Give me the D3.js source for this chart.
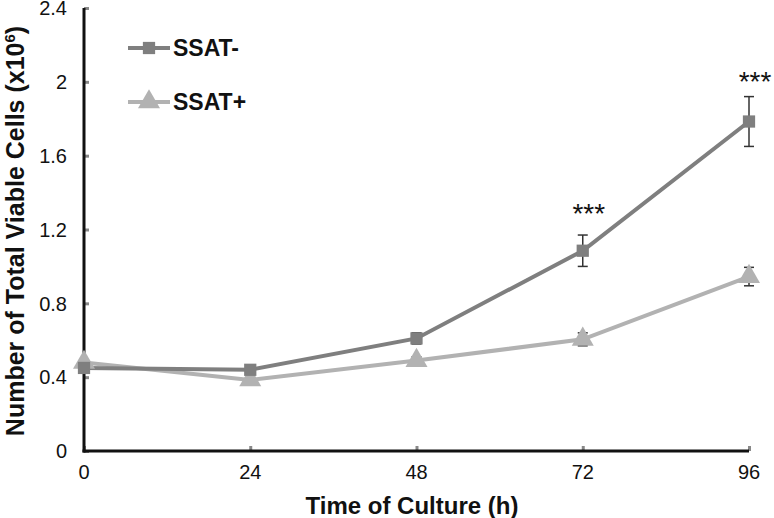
<!DOCTYPE html>
<html><head><meta charset="utf-8">
<script src="https://cdn.jsdelivr.net/npm/d3@7"></script>
<style>body{margin:0;background:#fff}svg{display:block}text{font-family:"Liberation Sans",Arial,sans-serif}</style>
</head><body><svg id="c" width="774" height="518"></svg>
<script>
const hours = [0, 24, 48, 72, 96];
const ssatMinus = [0.45, 0.44, 0.61, 1.085, 1.785];
const ssatMinusErr = [0.01, 0.01, 0.03, 0.085, 0.135];
const ssatPlus = [0.48, 0.385, 0.49, 0.605, 0.945];
const ssatPlusErr = [0.01, 0.01, 0.02, 0.035, 0.05];
const yTicks = [0, 0.4, 0.8, 1.2, 1.6, 2, 2.4];
const xTicks = [0, 24, 48, 72, 96];
const seriesNames = ["SSAT-", "SSAT+"];
const colors = ["#7f7f7f", "#b2b2b2"];
const signif = [{h:72, label:"***"}, {h:96, label:"***"}];

const svg = d3.select("#c");
const x = d3.scaleLinear().domain([0, 96]).range([84, 749]);
const y = d3.scaleLinear().domain([0, 2.4]).range([451, 8]);

// axes
const yAxis = svg.append("g").attr("transform", "translate(84,0)")
  .call(d3.axisRight(y).tickValues(yTicks).tickSize(5).tickFormat(""));
yAxis.select(".domain").remove();
yAxis.selectAll("line").attr("stroke", "#888").attr("stroke-width", 3);
const xAxis = svg.append("g").attr("transform", "translate(0,451)")
  .call(d3.axisTop(x).tickValues(xTicks).tickSize(5).tickFormat(""));
xAxis.select(".domain").remove();
xAxis.selectAll("line").attr("stroke", "#888").attr("stroke-width", 3);

svg.append("line").attr("x1", x(0)).attr("x2", x(0)).attr("y1", y(2.4)).attr("y2", y(0)+1.5)
  .attr("stroke", "#111").attr("stroke-width", 3);
svg.append("line").attr("x1", x(0)-1.5).attr("x2", x(96)).attr("y1", y(0)).attr("y2", y(0))
  .attr("stroke", "#111").attr("stroke-width", 3);

svg.selectAll("text.yt").data(yTicks).join("text").attr("class","yt")
  .attr("x", 67).attr("y", d => y(d)).attr("dy", "0.36em").attr("text-anchor", "end")
  .attr("font-size", 20).attr("fill", "#111").text(d => d);
svg.selectAll("text.xt").data(xTicks).join("text").attr("class","xt")
  .attr("x", d => x(d)).attr("y", 479).attr("text-anchor", "middle")
  .attr("font-size", 20).attr("fill", "#111").text(d => d);

svg.append("text").attr("x", 412).attr("y", 514).attr("text-anchor", "middle")
  .attr("font-size", 24).attr("font-weight", "bold").attr("fill", "#111").text("Time of Culture (h)");
const yt = svg.append("text").attr("transform", "translate(24,231) rotate(-90)").attr("text-anchor", "middle")
  .attr("font-size", 25).attr("font-weight", "bold").attr("fill", "#111");
yt.append("tspan").text("Number of Total Viable Cells (x10");
yt.append("tspan").attr("font-size", 15).attr("dy", -9).text("6");
yt.append("tspan").attr("dy", 9).text(")");

const line = d3.line().x(d => x(d[0])).y(d => y(d[1]));
const data = [
  hours.map((h,i) => [h, ssatMinus[i], ssatMinusErr[i]]),
  hours.map((h,i) => [h, ssatPlus[i], ssatPlusErr[i]])
];

// error bars
data.forEach((s, k) => {
  const g = svg.append("g").attr("stroke", "#333").attr("stroke-width", 1.5).attr("fill", "none");
  s.forEach(d => {
    if (d[2] < 0.02) return;
    const top = y(d[1] + d[2]), bot = y(d[1] - d[2]), cx = x(d[0]);
    g.append("line").attr("x1", cx).attr("x2", cx).attr("y1", top).attr("y2", bot);
    g.append("line").attr("x1", cx-5).attr("x2", cx+5).attr("y1", top).attr("y2", top);
    g.append("line").attr("x1", cx-5).attr("x2", cx+5).attr("y1", bot).attr("y2", bot);
  });
});

[1, 0].forEach(k => {
  svg.append("path").datum(data[k]).attr("d", line).attr("fill", "none")
    .attr("stroke", colors[k]).attr("stroke-width", 4);
});
const sq = d3.symbol().type(d3.symbolSquare).size(150);
const tri = d3.symbol().type(d3.symbolTriangle).size(210);
svg.selectAll("path.m1").data(data[1]).join("path").attr("class","m1")
  .attr("transform", d => `translate(${x(d[0])},${y(d[1])})`).attr("d", tri).attr("fill", colors[1]);
svg.selectAll("path.m0").data(data[0]).join("path").attr("class","m0")
  .attr("transform", d => `translate(${x(d[0])},${y(d[1])})`).attr("d", sq).attr("fill", colors[0]);

// significance
svg.selectAll("text.sig").data(signif).join("text").attr("class","sig")
  .attr("x", d => x(d.h) + 6).attr("y", d => d.h === 72 ? 223 : 91).attr("text-anchor", "middle")
  .attr("font-size", 28).attr("fill", "#111").text(d => d.label);

// legend
const leg = svg.append("g");
[0, 1].forEach(k => {
  const ly = k === 0 ? 48 : 102;
  leg.append("line").attr("x1", 128).attr("x2", 170).attr("y1", ly).attr("y2", ly)
    .attr("stroke", colors[k]).attr("stroke-width", 4);
  leg.append("path").attr("transform", `translate(149,${ly})`).attr("d", k === 0 ? sq : tri).attr("fill", colors[k]);
  leg.append("text").attr("x", 173).attr("y", ly).attr("dy", "0.36em").attr("font-size", 23)
    .attr("font-weight", "bold").attr("fill", "#111").text(seriesNames[k]);
});
</script></body></html>
